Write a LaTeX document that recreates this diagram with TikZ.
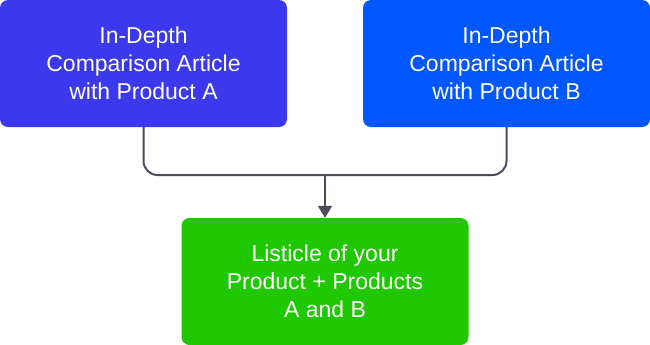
\documentclass[tikz,border=0pt]{standalone}
\usepackage{fontspec}
\setmainfont{Liberation Sans}
\usetikzlibrary{arrows.meta}
\definecolor{indigoA}{HTML}{3B38EE}
\definecolor{blueB}{HTML}{0057FF}
\definecolor{greenL}{HTML}{1FC800}
\definecolor{linkgray}{HTML}{4A4B5C}
\tikzset{
 article/.style={rectangle,rounded corners=8pt,minimum width=287pt,minimum height=127pt,inner sep=0,text=white,align=center,font=\fontsize{23}{28}\selectfont},
 link/.style={draw=linkgray,line width=2pt,rounded corners=14pt},
 linkarrow/.style={draw=linkgray,line width=2pt,-{Triangle[length=12pt,width=14pt]}}
}
\begin{document}
\begin{tikzpicture}[x=1pt,y=1pt]
\path[use as bounding box] (0,0) rectangle (650,-345);
\node[article,fill=indigoA] (artA) at (143.5,-63.5) {In-Depth\\Comparison Article\\with Product A};
\node[article,fill=blueB] (artB) at (506.5,-63.5) {In-Depth\\Comparison Article\\with Product B};
\node[article,fill=greenL] (list) at (325,-281.5) {Listicle of your\\Product + Products\\A and B};
\coordinate (join) at (325,-175);
\draw[link] (artA.south) |- (join) -| (artB.south);
\draw[linkarrow] (join) -- (list.north);
\end{tikzpicture}
\end{document}
